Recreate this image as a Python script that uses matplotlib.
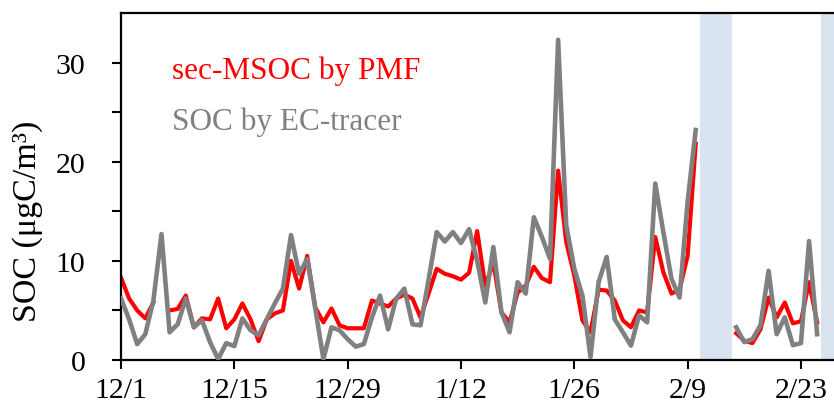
import numpy as np
import pandas as pd
import matplotlib
matplotlib.use("Agg")
import matplotlib.pyplot as plt

plt.rcParams['font.family'] = ['Liberation Serif', 'DejaVu Serif']

nan = np.nan

# daily values from 12/1, gaps where nothing was plotted
sec_msoc_pmf = [8.3, 6.2, 5.0, 4.2, 5.8, nan, 5.0, 5.15, 6.5, 3.3,
                4.2, 4.1, 6.2, 3.2, 4.1, 5.7, 4.1, 1.9, 4.1, 4.7,
                5.0, 10.0, 7.2, 10.5, 5.3, 3.8, 5.2, 3.5, 3.2, 3.2,
                3.2, 6.0, 5.7, 5.4, 6.2, 6.6, 6.2, 4.3, 6.7, 9.2,
                8.7, 8.45, 8.1, 8.8, 13.0, 7.5, 9.8, 4.8, 3.8, 6.8,
                7.5, 9.4, 8.25, 7.85, 19.1, 11.9, 8.5, 4.0, 2.8, 7.1,
                7.0, 6.0, 4.0, 3.3, 5.0, 4.8, 12.4, 8.85, 6.7, 7.1,
                10.5, 21.8, nan, nan, nan, nan, 2.7, 1.95, 1.7, 3.1,
                6.3, 4.3, 5.8, 3.7, 3.9, 7.85, 3.8]

soc_ec_tracer = [6.2, 4.1, 1.6, 2.6, 6.0, 12.7, 2.8, 3.6, 6.2, 3.3,
                 4.0, 1.8, 0.1, 1.7, 1.4, 4.2, 3.0, 2.5, 4.1, 5.7,
                 7.2, 12.6, 8.7, 10.2, 5.2, 0.1, 3.3, 3.0, 2.1, 1.35,
                 1.6, 4.3, 6.5, 3.1, 6.2, 7.2, 3.6, 3.5, 8.1, 12.9,
                 11.95, 12.9, 11.8, 13.2, 10.0, 5.8, 11.4, 4.8, 2.8, 7.85,
                 6.7, 14.4, 12.4, 10.2, 32.3, 13.6, 9.2, 6.5, 0.3, 7.85,
                 10.4, 4.1, 2.8, 1.45, 4.5, 3.8, 17.8, 12.9, 8.2, 6.3,
                 16.0, 23.2, nan, nan, nan, nan, 3.3, 1.8, 2.1, 3.5,
                 9.0, 2.6, 4.3, 1.5, 1.7, 12.0, 2.6]

dates = pd.date_range("2019-12-01", periods=len(sec_msoc_pmf), freq="D")
tick_dates = pd.date_range("2019-12-01", periods=7, freq="14D")
tick_labels = ["12/1", "12/15", "12/29", "1/12", "1/26", "2/9", "2/23"]

# shaded periods (start, end)
start = pd.Timestamp("2019-12-01")
shaded = [(start + pd.Timedelta(hours=12 + 24 * 71), start + pd.Timedelta(hours=12 + 24 * 75)),
          (start + pd.Timedelta(hours=12 + 24 * 86), start + pd.Timedelta(days=95))]

fig = plt.figure(figsize=(8.34, 4.10), dpi=100)
ax = fig.add_axes([0.1447, 0.1195, 0.8613, 0.8464])

for s, e in shaded:
    ax.axvspan(s, e, color="#dae3f0", lw=0, zorder=0)

ax.plot(dates, sec_msoc_pmf, color="#ff0000", lw=3.0, zorder=2)
ax.plot(dates, soc_ec_tracer, color="#808080", lw=3.3, zorder=3)

ax.set_xlim(start - pd.Timedelta(hours=1), start + pd.Timedelta(hours=24 * 88.7))
ax.set_ylim(0, 35)

ax.set_xticks(tick_dates)
ax.set_xticklabels(tick_labels)
ax.set_yticks([0, 5, 10, 15, 20, 25, 30])
ax.set_yticklabels(["0", "", "10", "", "20", "", "30"])
ax.tick_params(axis="both", direction="out", length=6.5, width=1.5,
               labelsize=21.5, colors="black")
ax.tick_params(axis="y", pad=19)
ax.tick_params(axis="x", pad=6)

for side in ["left", "bottom", "top"]:
    ax.spines[side].set_linewidth(1.6)
ax.spines["right"].set_visible(False)

fig.text(28 / 834, 0.461, "SOC (μgC/m³)", rotation=90, ha="center", va="center",
         fontsize=24.5)

ax.text(0.071, 0.836, "sec-MSOC by PMF", color="#ff0000", fontsize=22.5,
        transform=ax.transAxes, ha="left", va="center")
ax.text(0.071, 0.689, "SOC by EC-tracer", color="#808080", fontsize=22.5,
        transform=ax.transAxes, ha="left", va="center")

fig.savefig("out.png", dpi=100)
